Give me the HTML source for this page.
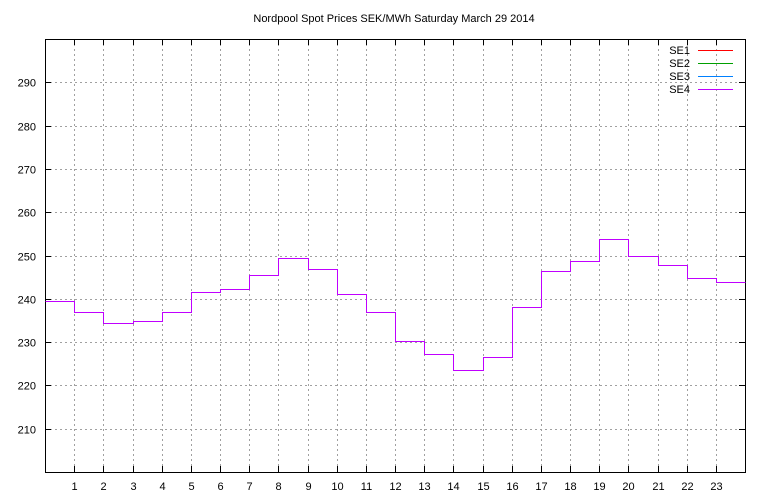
<!DOCTYPE html>
<html><head><meta charset="utf-8"><style>
body{margin:0;background:#fff;}
svg{display:block;font-family:"Liberation Sans",sans-serif;font-size:11px;}
</style></head><body>
<svg id="c" width="768" height="500">
<text x="394" y="22" text-anchor="middle" font-size="11">Nordpool Spot Prices SEK/MWh Saturday March 29 2014</text>
<g id="grid" shape-rendering="crispEdges"></g><g id="axes"></g><g id="series" shape-rendering="crispEdges"></g><g id="legend"></g>
</svg>
<script>
const hours=[0,1,2,3,4,5,6,7,8,9,10,11,12,13,14,15,16,17,18,19,20,21,22,23];
const prices=[239.4,237.0,234.3,234.8,237.0,241.5,242.2,245.4,249.5,246.8,241.0,237.0,230.2,227.2,223.5,226.5,238.2,246.5,248.8,253.7,250.0,247.7,244.7,243.8];
const yTicks=[210,220,230,240,250,260,270,280,290];
const xTicks=[1,2,3,4,5,6,7,8,9,10,11,12,13,14,15,16,17,18,19,20,21,22,23];
const seriesNames=["SE1","SE2","SE3","SE4"];
const seriesColors=["#ff0000","#00a000","#0080ff","#c000ff"];
const L=45,R=745,T=39,B=472;
const sx=h=>L+(R-L)*h/24;
const sy=v=>B-(B-T)*(v-200)/100;
const NS="http://www.w3.org/2000/svg";
function mk(tag,parent,attrs){const e=document.createElementNS(NS,tag);for(const k in attrs)e.setAttribute(k,attrs[k]);parent.appendChild(e);return e;}
const grid=document.getElementById('grid'),axes=document.getElementById('axes');
yTicks.forEach(v=>{
 const y=Math.round(sy(v))+0.5;
 const g=mk('line',grid,{x1:L,x2:R,y1:y,y2:y,stroke:'#a0a0a0','stroke-dasharray':'2,3'});
 
 
 mk('line',axes,{x1:L,x2:L+6,y1:y,y2:y,stroke:'#000'});
 mk('line',axes,{x1:R-6,x2:R,y1:y,y2:y,stroke:'#000'});
 const t=mk('text',axes,{x:L-9,y:y+4,'text-anchor':'end'});t.textContent=v;
 
 
});
xTicks.forEach(h=>{
 const x=Math.round(sx(h))+0.5;
 const g=mk('line',grid,{x1:x,x2:x,y1:T,y2:B,stroke:'#a0a0a0','stroke-dasharray':'2,3'});
 
 
 mk('line',axes,{x1:x,x2:x,y1:B,y2:B-6,stroke:'#000'});
 mk('line',axes,{x1:x,x2:x,y1:T,y2:T+6,stroke:'#000'});
 const t=mk('text',axes,{x:x,y:B+18,'text-anchor':'middle'});t.textContent=h;
 
 
});
const fr=mk('rect',axes,{x:L+0.5,y:T+0.5,width:R-L,height:B-T,fill:'none',stroke:'#000','shape-rendering':'crispEdges'});


const ser=document.getElementById('series');
seriesNames.forEach((n,i)=>{
 let d='';
 hours.forEach((h,j)=>{const y=Math.round(sy(prices[j]))+0.5;const x0=Math.round(sx(h))+0.5,x1=Math.round(sx(h+1))+0.5;d+=(j?'L':'M')+x0+','+y+'L'+x1+','+y;});
 const p=mk('path',ser,{d:d,fill:'none',stroke:seriesColors[i],'stroke-width':1});
 
 
});
const lg=document.getElementById('legend');
seriesNames.forEach((n,i)=>{
 const y=50+i*13;
 const t=mk('text',lg,{x:690,y:y+4,'text-anchor':'end'});t.textContent=n;
 
 
 const l=mk('line',lg,{x1:698,x2:733,y1:y+0.5,y2:y+0.5,stroke:seriesColors[i],'shape-rendering':'crispEdges'});
 
 
});
</script>
</body></html>
